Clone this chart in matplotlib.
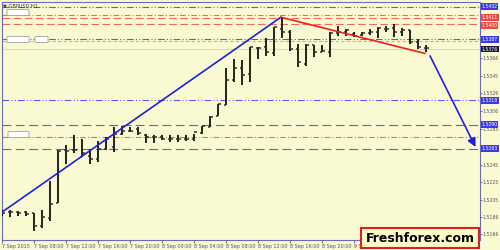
import numpy as np
import matplotlib.pyplot as plt
from matplotlib.patches import Rectangle, FancyBboxPatch
import matplotlib.transforms as mtransforms

# GBPUSD H1 bars, first bar = 7 Sep 2015 04:00
opens = [1.5192, 1.5191, 1.5191, 1.5191, 1.5190, 1.5175, 1.5184, 1.5201, 1.5261, 1.5261,
         1.5254, 1.5255, 1.5251, 1.5263, 1.5265, 1.5280, 1.5283, 1.5285, 1.5279, 1.5276,
         1.5276, 1.5274, 1.5274, 1.5274, 1.5274, 1.5281, 1.5288, 1.5300, 1.5313, 1.5341,
         1.5354, 1.5348, 1.5377, 1.5378, 1.5371, 1.5399, 1.5395, 1.5376, 1.5359, 1.5380,
         1.5373, 1.5373, 1.5394, 1.5395, 1.5393, 1.5392, 1.5394, 1.5395, 1.5399, 1.5400,
         1.5395, 1.5397, 1.5384, 1.5377]
highs = [1.5193, 1.5193, 1.5192, 1.5192, 1.5190, 1.5193, 1.5226, 1.5261, 1.5267, 1.5278,
         1.5274, 1.5263, 1.5272, 1.5276, 1.5288, 1.5289, 1.5287, 1.5287, 1.5280, 1.5279,
         1.5278, 1.5278, 1.5278, 1.5278, 1.5280, 1.5289, 1.5300, 1.5314, 1.5354, 1.5365,
         1.5363, 1.5378, 1.5378, 1.5389, 1.5401, 1.5412, 1.5397, 1.5382, 1.5382, 1.5380,
         1.5380, 1.5395, 1.5402, 1.5399, 1.5395, 1.5395, 1.5399, 1.5401, 1.5402, 1.5404,
         1.5400, 1.5397, 1.5387, 1.5380]
lows = [1.5187, 1.5186, 1.5187, 1.5187, 1.5170, 1.5173, 1.5181, 1.5201, 1.5246, 1.5258,
        1.5253, 1.5246, 1.5248, 1.5261, 1.5259, 1.5278, 1.5282, 1.5279, 1.5269, 1.5269,
        1.5273, 1.5271, 1.5270, 1.5272, 1.5272, 1.5280, 1.5288, 1.5300, 1.5312, 1.5339,
        1.5335, 1.5339, 1.5365, 1.5368, 1.5368, 1.5389, 1.5374, 1.5356, 1.5357, 1.5367,
        1.5373, 1.5367, 1.5391, 1.5391, 1.5390, 1.5391, 1.5392, 1.5389, 1.5395, 1.5390,
        1.5391, 1.5382, 1.5376, 1.5373]
closes = [1.5190, 1.5191, 1.5190, 1.5189, 1.5175, 1.5186, 1.5200, 1.5260, 1.5260, 1.5261,
          1.5258, 1.5251, 1.5263, 1.5274, 1.5280, 1.5283, 1.5283, 1.5281, 1.5276, 1.5276,
          1.5274, 1.5274, 1.5274, 1.5274, 1.5282, 1.5289, 1.5299, 1.5314, 1.5341, 1.5354,
          1.5347, 1.5378, 1.5377, 1.5373, 1.5401, 1.5395, 1.5376, 1.5361, 1.5380, 1.5373,
          1.5374, 1.5394, 1.5395, 1.5397, 1.5391, 1.5394, 1.5395, 1.5400, 1.5399, 1.5395,
          1.5397, 1.5384, 1.5378, 1.5377]

time_ticks = [0, 4, 8, 12, 16, 20, 24, 28, 32, 36, 40, 44, 48, 52, 56]
time_labels = ['7 Sep 2015', '7 Sep 08:00', '7 Sep 12:00', '7 Sep 16:00', '7 Sep 20:00',
               '8 Sep 00:00', '8 Sep 04:00', '8 Sep 08:00', '8 Sep 12:00', '8 Sep 16:00',
               '8 Sep 20:00', '9 Sep 00:00', '9 Sep 04:00', '9 Sep 08:00', '9 Sep 12:00']

price_ticks = [1.5166, 1.5186, 1.5205, 1.5225, 1.5245, 1.5285, 1.5306, 1.5326, 1.5345, 1.5366]

# horizontal levels
level_prices = [1.5424, 1.5415, 1.5411, 1.5404, 1.5387, 1.5385, 1.5376, 1.5318, 1.5290, 1.5276, 1.5263]
level_kinds = ['bdd', 'rdd', 'rd', 'rd', 'bdd', 'g', 'cur', 'bdd', 'bd', 'rdd', 'bd']

# boxed price labels on the right scale
box_prices = [1.5424, 1.5412, 1.5403, 1.5387, 1.5376, 1.5318, 1.5290, 1.5263]
box_texts = ['1.5432', '1.5411', '1.5400', '1.5387', '1.5376', '1.5318', '1.5290', '1.5263']
box_kinds = ['b', 'r', 'r', 'b', 'cur', 'b', 'b', 'b']

# trend lines (bar index, price)
up_line = [(-0.06, 1.5191), (34.8, 1.5412)]
down_line = [(34.8, 1.5412), (52.8, 1.5371)]
forecast = [(53.3, 1.5371), (59.3, 1.5262)]

bg = '#fafad2'
blue = '#5a5af2'
red = '#f26a5c'
frame = '#6b6bb8'

fig = plt.figure(figsize=(5, 2.5), dpi=100, facecolor=bg)
ax = fig.add_axes([2 / 500, 10 / 250, 478 / 500, 238 / 250])
ax.set_facecolor(bg)

styles = {
    'bdd': dict(color=blue, ls=(0, (6, 2, 1, 2, 1, 2)), lw=0.8),
    'bd': dict(color=blue, ls=(0, (8, 4)), lw=0.8),
    'rdd': dict(color=red, ls=(0, (5, 2, 1, 2)), lw=0.8),
    'rd': dict(color=red, ls=(0, (7, 3)), lw=0.8),
    'g': dict(color='#8fd07f', ls=(0, (3, 2)), lw=0.8),
    'cur': dict(color='#d9d9c0', ls='-', lw=0.8),
}
for p, k in zip(level_prices, level_kinds):
    ax.axhline(p, zorder=1, **styles[k])

# OHLC bars
x = np.arange(len(opens))
ax.vlines(x, lows, highs, color='black', lw=1.2, zorder=3)
ax.hlines(opens, x - 0.35, x, color='#303030', lw=1.1, zorder=3)
ax.hlines(closes, x, x + 0.35, color='#303030', lw=1.1, zorder=3)

# trend lines
ax.plot(*zip(*up_line), color='#2020e0', lw=1.2, zorder=4)
ax.plot(*zip(*down_line), color='#f02020', lw=1.2, zorder=4)
ax.annotate('', xy=forecast[1], xytext=forecast[0],
            arrowprops=dict(arrowstyle='-|>,head_length=0.5,head_width=0.25',
                            color='#2020e0', lw=1.2), zorder=5)

ax.set_xlim(-0.06, 59.7)
ax.set_ylim(1.51594, 1.54293)

ax.yaxis.tick_right()
ax.set_yticks(price_ticks)
ax.set_yticklabels(['%.4f' % p for p in price_ticks])
ax.set_xticks(time_ticks)
ax.set_xticklabels(time_labels)
for lbl in ax.get_xticklabels():
    lbl.set_ha('left')
ax.tick_params(axis='x', labelsize=3.5, colors='#505070', length=2, width=0.6, pad=1)
ax.tick_params(axis='y', labelsize=3.3, colors='#505070', length=1.5, width=0.6, pad=0.5)
for s in ax.spines.values():
    s.set_color(frame)
    s.set_linewidth(0.8)

# boxed labels on price scale
trans = mtransforms.blended_transform_factory(ax.transAxes, ax.transData)
box_colors = {'b': '#3a3ae8', 'r': '#f04a40', 'cur': '#1a1a40'}
for p, t, k in zip(box_prices, box_texts, box_kinds):
    ax.text(1.003, p, t, transform=trans, fontsize=3.3, color='white',
            ha='left', va='center', clip_on=False, zorder=6,
            bbox=dict(boxstyle='square,pad=0.2', fc=box_colors[k], ec='none'))

# symbol title
fig.text(3 / 500, 1 - 6 / 250, '\u25bc GBPUSD,H1', fontsize=3.6, color='#303060',
         ha='left', va='center')

# hidden object labels on the left
for (bx, by, bw) in [(8, 10, 20), (8, 37, 20), (36, 37, 11), (9, 132, 19)]:
    fig.patches.append(FancyBboxPatch((bx / 500, 1 - (by + 5) / 250), bw / 500, 5 / 250,
                                      boxstyle='round,pad=0.002', transform=fig.transFigure,
                                      fc='white', ec='#a0a0a0', lw=0.6, zorder=7))

# watermark
fig.patches.append(Rectangle((361 / 500, 2 / 250), 118 / 500, 20 / 250,
                             transform=fig.transFigure, fc='#fffcc8', ec='#e02020',
                             lw=1.5, zorder=8))
fig.text(420 / 500, 12 / 250, 'Freshforex.com', fontsize=9, fontweight='bold',
         ha='center', va='center', color='black', zorder=9)

fig.savefig('out.png', dpi=100, facecolor=bg)
